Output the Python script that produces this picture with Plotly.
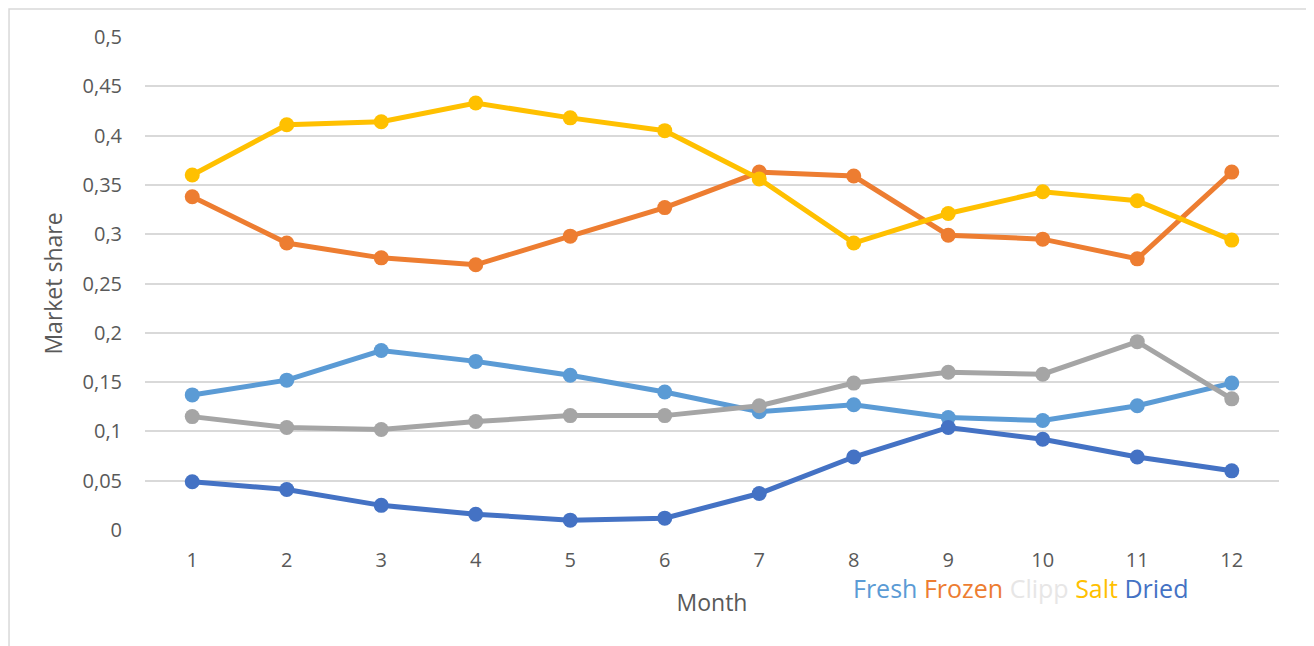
"""Market share per month by product form."""

import plotly.graph_objects as go

months = [1, 2, 3, 4, 5, 6, 7, 8, 9, 10, 11, 12]

fresh = [0.137, 0.152, 0.182, 0.171, 0.157, 0.140, 0.120, 0.127, 0.114, 0.111, 0.126, 0.149]
frozen = [0.338, 0.291, 0.276, 0.269, 0.298, 0.327, 0.363, 0.359, 0.299, 0.295, 0.275, 0.363]
clipp = [0.115, 0.104, 0.102, 0.110, 0.116, 0.116, 0.126, 0.149, 0.160, 0.158, 0.191, 0.133]
salt = [0.360, 0.411, 0.414, 0.433, 0.418, 0.405, 0.356, 0.291, 0.321, 0.343, 0.334, 0.294]
dried = [0.049, 0.041, 0.025, 0.016, 0.010, 0.012, 0.037, 0.074, 0.104, 0.092, 0.074, 0.060]

y_ticks = [0, 0.05, 0.1, 0.15, 0.2, 0.25, 0.3, 0.35, 0.4, 0.45, 0.5]
y_tick_labels = ["0", "0,05", "0,1", "0,15", "0,2", "0,25", "0,3", "0,35", "0,4", "0,45", "0,5"]

series = [
    ("Fresh", fresh, "#5B9BD5", "#5B9BD5"),
    ("Frozen", frozen, "#ED7D31", "#ED7D31"),
    ("Clipp", clipp, "#A5A5A5", "#E7E6E6"),
    ("Salt", salt, "#FFC000", "#FFC000"),
    ("Dried", dried, "#4472C4", "#4472C4"),
]

FONT = "Open Sans"
TEXT_COLOR = "#595959"
GRID = "#D9D9D9"

fig = go.Figure()

for name, values, color, _ in series:
    fig.add_trace(
        go.Scatter(
            x=months,
            y=values,
            name=name,
            mode="lines+markers",
            line=dict(color=color, width=5),
            marker=dict(color=color, size=15),
            showlegend=False,
        )
    )

# legende sous forme de texte colore, comme dans l'original
legend_text = " ".join(
    f"<span style='color:{text_color}'>{name}</span>" for name, _, _, text_color in series
)
fig.add_annotation(
    x=0.6226, y=-0.117, xref="paper", yref="paper",
    xanchor="left", yanchor="middle",
    text=legend_text, showarrow=False,
    font=dict(family=FONT, size=25),
)

# cadre gris autour du graphique
fig.add_shape(
    type="rect", xref="paper", yref="paper",
    x0=-0.1199, x1=1.0256, y0=-0.30, y1=1.0568,
    line=dict(color=GRID, width=1.5), layer="below",
)

fig.update_layout(
    width=1314,
    height=646,
    margin=dict(l=137, r=43, t=29, b=124),
    plot_bgcolor="white",
    paper_bgcolor="white",
    font=dict(family=FONT, color=TEXT_COLOR),
)

fig.update_xaxes(
    range=[0.5, 12.5],
    tickmode="array",
    tickvals=months,
    ticktext=[str(m) for m in months],
    showgrid=False,
    zeroline=False,
    showline=False,
    ticklabelstandoff=16,
    tickfont=dict(size=20, color=TEXT_COLOR),
    title=dict(text="Month", font=dict(size=23, color=TEXT_COLOR), standoff=22),
)

fig.update_yaxes(
    range=[0, 0.5],
    tickmode="array",
    tickvals=y_ticks,
    ticktext=y_tick_labels,
    showgrid=True,
    gridcolor=GRID,
    gridwidth=1.5,
    zeroline=False,
    showline=False,
    ticklabelstandoff=22,
    tickfont=dict(size=20, color=TEXT_COLOR),
    title=dict(text="Market share", font=dict(size=23, color=TEXT_COLOR), standoff=13),
)

fig.write_html("out.html")
